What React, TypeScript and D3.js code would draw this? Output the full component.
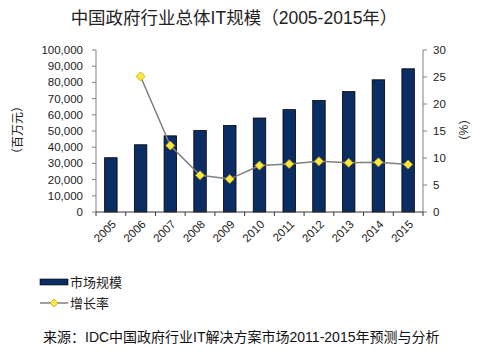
import React from "react";
import * as d3 from "d3";

const years = ["2005","2006","2007","2008","2009","2010","2011","2012","2013","2014","2015"];
const marketSize = [33500, 41500, 47000, 50300, 53400, 58000, 63200, 68800, 74300, 81600, 88400];
const growthYears = ["2006","2007","2008","2009","2010","2011","2012","2013","2014","2015"];
const growthRate = [25.1, 12.3, 6.8, 6.1, 8.6, 8.9, 9.4, 9.1, 9.2, 8.8];
const leftTicks = [0,10000,20000,30000,40000,50000,60000,70000,80000,90000,100000];
const rightTicks = [0,5,10,15,20,25,30];

const FONT = "'Liberation Sans', Arial, 'Noto Sans CJK SC', sans-serif";

export default function App() {
  const W = 482, H = 351;
  const left = 96, right = 423, top = 50, bottom = 212;
  const x = d3.scaleBand<string>().domain(years).range([left, right]).paddingInner(0.58).paddingOuter(0.29);
  const yL = d3.scaleLinear().domain([0, 100000]).range([bottom, top]);
  const yR = d3.scaleLinear().domain([0, 30]).range([bottom, top]);
  const step = x.step();
  const cx = (y: string) => (x(y) as number) + x.bandwidth() / 2;
  const line = d3.line<number>().x((_, i) => cx(growthYears[i])).y(d => yR(d));
  const fmt = d3.format(",");
  const axisColor = "#808080";
  const diamond = (px: number, py: number, r: number) =>
    `M${px},${py - r}L${px + r},${py}L${px},${py + r}L${px - r},${py}Z`;
  const boundaries = d3.range(years.length + 1).map(i => left + i * step);

  return (
    <svg width={W} height={H} style={{ position: "absolute", left: 0, top: 0, background: "#fff" }} fontFamily={FONT}>
      <text x={234} y={24} textAnchor="middle" fontSize={17.5} fill="#222">中国政府行业总体IT规模（2005-2015年）</text>

      {/* bars */}
      {years.map((yr, i) => (
        <rect key={yr} x={x(yr)} y={yL(marketSize[i])} width={x.bandwidth()} height={bottom - yL(marketSize[i])}
          fill="#0c2d63" stroke="#000" strokeWidth={0.8} />
      ))}

      {/* left axis */}
      <line x1={left} x2={left} y1={top} y2={bottom} stroke={axisColor} />
      {leftTicks.map(t => (
        <g key={t}>
          <line x1={left - 4} x2={left} y1={yL(t)} y2={yL(t)} stroke={axisColor} />
          <text x={left - 13} y={yL(t)} dy="0.35em" textAnchor="end" fontSize={11.5} fill="#222">{fmt(t)}</text>
        </g>
      ))}
      {/* right axis */}
      <line x1={right} x2={right} y1={top} y2={bottom} stroke={axisColor} />
      {rightTicks.map(t => (
        <g key={t}>
          <line x1={right} x2={right + 4} y1={yR(t)} y2={yR(t)} stroke={axisColor} />
          <text x={right + 10} y={yR(t)} dy="0.35em" textAnchor="start" fontSize={11.5} fill="#222">{t}</text>
        </g>
      ))}
      {/* x axis */}
      <line x1={left} x2={right} y1={bottom} y2={bottom} stroke="#333" />
      {boundaries.map((b, i) => (
        <line key={i} x1={b} x2={b} y1={bottom} y2={bottom + 4} stroke="#333" />
      ))}
      {years.map(yr => (
        <text key={yr} transform={`translate(${cx(yr) + 3},${bottom + 10}) rotate(-45)`} textAnchor="end" dy="0.35em"
          fontSize={11.5} fill="#222">{yr}</text>
      ))}

      {/* axis titles */}
      <text transform={`translate(18,130) rotate(-90)`} textAnchor="middle" dy="0.35em" fontSize={12} fill="#222">（百万元）</text>
      <text transform={`translate(463,130) rotate(90)`} textAnchor="middle" dy="0.35em" fontSize={12} fill="#222">（%）</text>

      {/* growth line */}
      <path d={line(growthRate) || ""} fill="none" stroke="#7f7f7f" strokeWidth={1.5} />
      {growthRate.map((v, i) => (
        <path key={i} d={diamond(cx(growthYears[i]), yR(v), 4.5)} fill="#ffe83a" stroke="#b8a020" strokeWidth={0.8} />
      ))}

      {/* legend */}
      <rect x={40} y={279} width={28} height={6} fill="#0c2d63" stroke="#000" strokeWidth={0.6} />
      <text x={70} y={282} dy="0.35em" fontSize={13} fill="#222">市场规模</text>
      <line x1={40} x2={68} y1={303} y2={303} stroke="#7f7f7f" strokeWidth={1.5} />
      <path d={diamond(54, 303, 4)} fill="#ffe83a" stroke="#b8a020" strokeWidth={0.8} />
      <text x={70} y={303} dy="0.35em" fontSize={13} fill="#222">增长率</text>

      <text x={43} y={337} dy="0.35em" fontSize={14} fill="#111">来源：IDC中国政府行业IT解决方案市场2011-2015年预测与分析</text>
    </svg>
  );
}
